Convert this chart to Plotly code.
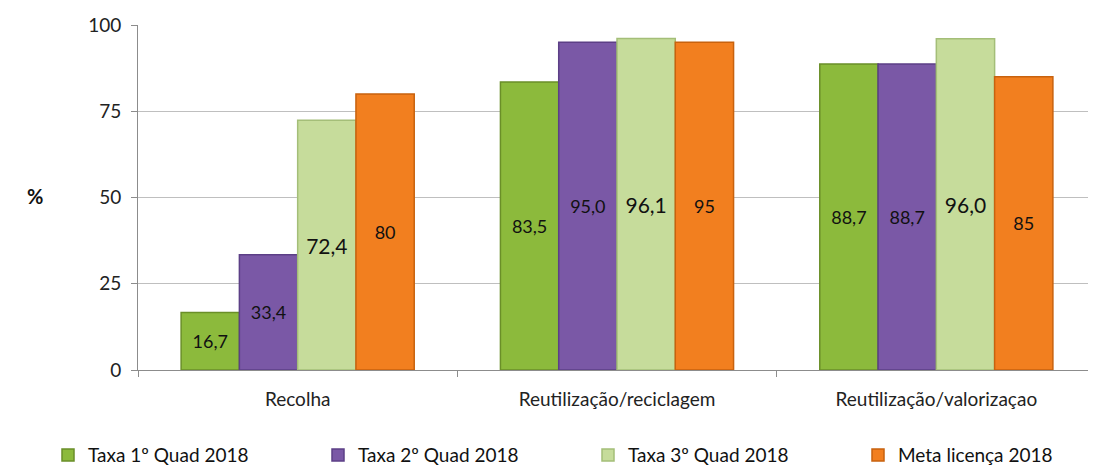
import plotly.graph_objects as go

categories = ["Recolha", "Reutilização/reciclagem", "Reutilização/valorizaçao"]
series_names = ["Taxa 1º Quad 2018", "Taxa 2º Quad 2018", "Taxa 3º Quad 2018", "Meta licença 2018"]
taxa1 = [16.7, 83.5, 88.7]
taxa2 = [33.4, 95.0, 88.7]
taxa3 = [72.4, 96.1, 96.0]
meta = [80, 95, 85]
label1 = ["16,7", "83,5", "88,7"]
label2 = ["33,4", "95,0", "88,7"]
label3 = ["72,4", "96,1", "96,0"]
label_meta = ["80", "95", "85"]
y_ticks = [0, 25, 50, 75, 100]

colors = ["#8CBA3C", "#7A58A6", "#C6DC9B", "#F27F1F"]
edges = ["#6A8F28", "#5C3F86", "#A4BE78", "#C8620E"]
sizes = [18, 18, 21, 18]
legend_ids = ["legend", "legend2", "legend3", "legend4"]
legend_x = [40, 310, 580, 850]  # px in figure container

W, H = 1088, 460

fig = go.Figure()
for name, vals, labs, c, e, s, lg in zip(series_names, [taxa1, taxa2, taxa3, meta],
                                         [label1, label2, label3, label_meta], colors, edges,
                                         sizes, legend_ids):
    fig.add_trace(go.Bar(
        name=name, x=categories, y=vals, text=labs, textposition="inside",
        insidetextanchor="middle", textangle=0,
        textfont=dict(size=s, color="#111111", family="Lato"),
        marker=dict(color=c, line=dict(color=e, width=1.5)),
        legend=lg, showlegend=True,
    ))

legends = {}
for lg, lx in zip(legend_ids, legend_x):
    legends[lg] = dict(orientation="h", x=lx / W, xanchor="left", xref="container",
                       y=0.028, yanchor="middle", yref="container",
                       font=dict(size=19, color="#111111"), itemwidth=30,
                       bgcolor="rgba(0,0,0,0)", visible=True)

fig.update_layout(
    width=W, height=H, barmode="group", bargap=0.27, bargroupgap=0,
    plot_bgcolor="white", paper_bgcolor="white", showlegend=True,
    margin=dict(l=130, r=0, t=17, b=98, autoexpand=False),
    font=dict(family="Lato", size=19, color="#222222"),
    annotations=[dict(text="<b>%</b>", x=-0.118, y=0.505, xref="paper", yref="paper",
                      showarrow=False, font=dict(size=20, color="#111111"))],
    **legends,
)
fig.update_yaxes(range=[0, 100], tickvals=y_ticks, showgrid=True, gridcolor="#BFBFBF",
                 gridwidth=1, showline=True, linecolor="#8C8C8C", linewidth=1,
                 ticks="outside", ticklen=6, tickcolor="#8C8C8C", zeroline=False,
                 ticklabelstandoff=6, tickfont=dict(size=19, color="#222222"))
fig.update_xaxes(showline=True, linecolor="#8C8C8C", linewidth=1, ticks="outside",
                 tickson="boundaries", ticklen=6, tickcolor="#8C8C8C",
                 ticklabelstandoff=12, tickfont=dict(size=19, color="#222222"))

fig.write_html("out.html")
